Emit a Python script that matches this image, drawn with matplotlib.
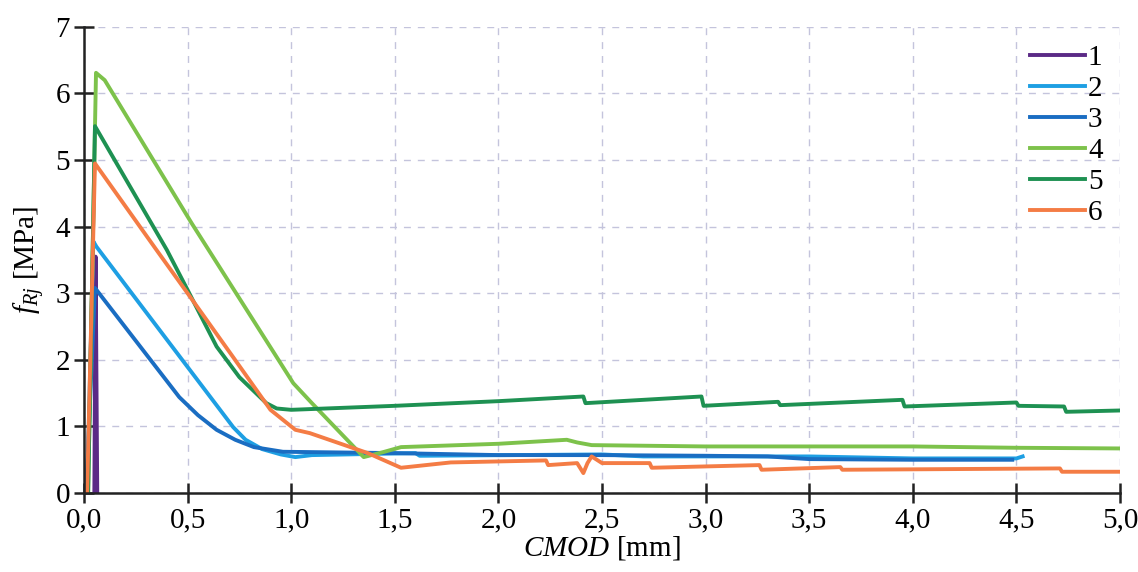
import matplotlib
matplotlib.use("Agg")
import matplotlib.pyplot as plt
from matplotlib.ticker import FuncFormatter, MultipleLocator

plt.rcParams['font.family'] = ['Liberation Serif', 'DejaVu Serif']
plt.rcParams['mathtext.fontset'] = 'custom'
plt.rcParams['mathtext.rm'] = 'Liberation Serif'
plt.rcParams['mathtext.it'] = 'Liberation Serif:italic'

labels = ['1', '2', '3', '4', '5', '6']
colors = ['#5B2A86', '#1E9FE3', '#1A6DC2', '#7DC24B', '#1E9152', '#F47C45']

x1 = [0.050, 0.056, 0.064]
y1 = [0.0, 3.55, 0.0]

x2 = [0.015, 0.045, 0.06, 0.72, 0.78, 0.86, 0.95, 1.02, 1.10, 1.60, 1.62, 2.50, 2.70, 3.50, 4.00, 4.50, 4.53]
y2 = [0.0, 3.78, 3.70, 0.99, 0.80, 0.66, 0.58, 0.54, 0.57, 0.60, 0.56, 0.58, 0.55, 0.55, 0.52, 0.52, 0.55]

x3 = [0.010, 0.053, 0.46, 0.55, 0.64, 0.73, 0.82, 0.96, 1.50, 2.00, 2.50, 3.00, 3.30, 3.50, 4.00, 4.48]
y3 = [0.0, 3.08, 1.44, 1.17, 0.95, 0.80, 0.69, 0.62, 0.60, 0.57, 0.57, 0.56, 0.55, 0.51, 0.50, 0.50]

x4 = [0.020, 0.058, 0.10, 0.52, 1.01, 1.10, 1.35, 1.45, 1.53, 2.00, 2.33, 2.38, 2.45, 3.00, 3.50, 4.00, 4.50, 5.00]
y4 = [0.0, 6.31, 6.20, 4.05, 1.65, 1.35, 0.54, 0.62, 0.69, 0.74, 0.80, 0.76, 0.72, 0.70, 0.70, 0.70, 0.68, 0.67]

x5 = [0.020, 0.053, 0.40, 0.50, 0.64, 0.75, 0.88, 0.93, 1.00, 1.50, 2.00, 2.41, 2.42, 2.98, 2.99,
      3.35, 3.36, 3.95, 3.96, 4.50, 4.51, 4.73, 4.74, 5.00]
y5 = [0.0, 5.51, 3.65, 3.05, 2.20, 1.74, 1.35, 1.27, 1.25, 1.31, 1.38, 1.45, 1.35, 1.45, 1.31,
      1.37, 1.32, 1.40, 1.30, 1.36, 1.31, 1.30, 1.22, 1.24]

x6 = [0.015, 0.053, 0.35, 0.50, 0.72, 0.90, 1.02, 1.09, 1.37, 1.53, 1.77, 2.23, 2.24, 2.38, 2.41,
      2.43, 2.45, 2.50, 2.73, 2.74, 3.26, 3.27, 3.65, 3.66, 4.71, 4.72, 5.00]
y6 = [0.0, 4.95, 3.65, 3.00, 2.04, 1.25, 0.95, 0.90, 0.60, 0.38, 0.46, 0.49, 0.42, 0.45, 0.30,
      0.45, 0.55, 0.45, 0.45, 0.38, 0.42, 0.35, 0.39, 0.35, 0.37, 0.32, 0.32]

xs = [x1, x2, x3, x4, x5, x6]
ys = [y1, y2, y3, y4, y5, y6]

fig = plt.figure(figsize=(11.38, 5.72), dpi=100)
ax = fig.add_axes([0.0738, 0.138, 0.9104, 0.815])

for x, y, c, l in zip(xs, ys, colors, labels):
    ax.plot(x, y, color=c, lw=2.8, label=l, solid_joinstyle='round')

ax.set_xlim(0, 5.0)
ax.set_ylim(0, 7)
ax.xaxis.set_major_locator(MultipleLocator(0.5))
ax.yaxis.set_major_locator(MultipleLocator(1))
ax.xaxis.set_major_formatter(FuncFormatter(lambda v, p: f"{v:.1f}".replace('.', ',')))
ax.yaxis.set_major_formatter(FuncFormatter(lambda v, p: f"{int(round(v))}"))

ax.grid(True, linestyle=(0, (5, 5)), color='#C4C4DC', lw=1.0)
ax.set_axisbelow(True)
for s in ['top', 'right']:
    ax.spines[s].set_visible(False)
for s in ['left', 'bottom']:
    ax.spines[s].set_color('#222222')
    ax.spines[s].set_linewidth(1.8)
ax.tick_params(axis='both', direction='inout', length=14, width=1.8, color='#222222',
               labelsize=21, pad=3)

ax.set_xlabel(r'$CMOD$ [mm]', fontsize=21, labelpad=1)
ax.set_ylabel(r'$f_{Rj}$ [MPa]', fontsize=21, labelpad=6)

leg = ax.legend(loc='upper right', bbox_to_anchor=(1.0, 1.0), frameon=False, fontsize=21,
                handlelength=1.9, handletextpad=0.1, labelspacing=0.16, borderaxespad=0.2)

fig.savefig('out.png', dpi=100)
